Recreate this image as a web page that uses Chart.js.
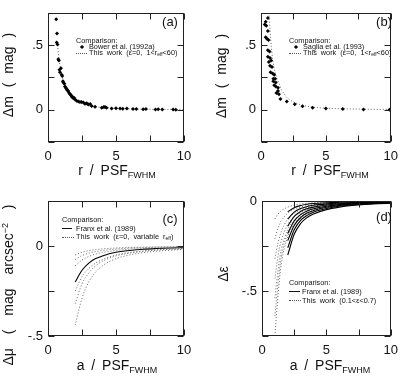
<!DOCTYPE html>
<html>
<head>
<meta charset="UTF-8">
<title>PSF corrections</title>
<script src="https://cdn.jsdelivr.net/npm/chart.js"></script>
<style>
  body, html { margin: 0; padding: 0; background: #fff; }
  #wrap { position: relative; width: 405px; height: 376px; overflow: hidden;
          font-family: "Liberation Sans", Arial, sans-serif; color: #111; }
  canvas { position: absolute; }
  .lbl { position: absolute; white-space: pre; font-size: 14px; line-height: 1; }
  .ylbl { transform: translate(-50%, -50%) rotate(-90deg); }
  .xlbl { transform: translate(-50%, -50%); }
  .lbl sub { font-size: 9px; vertical-align: -3px; }
  .lbl sup { font-size: 9px; vertical-align: 5px; }
  .tag { position: absolute; font-size: 13px; transform: translate(-50%, -50%); }
  .leg { position: absolute; font-size: 7.3px; line-height: 1; white-space: pre; transform: translateY(-50%); }
  .leg sub { font-size: 5px; vertical-align: -1px; }
  .sw { position: absolute; height: 0; }
  .sw.dot { border-top: 1px dotted #555; }
  .sw.sol { border-top: 1px solid #111; }
  .mk { position: absolute; width: 3px; height: 3px; background: #000; transform: translate(-50%, -50%) rotate(45deg); }
</style>
</head>
<body>
<div id="wrap">
  <canvas id="pa" width="200" height="186" style="left:0;top:0"></canvas>
  <canvas id="pb" width="205" height="186" style="left:200px;top:0"></canvas>
  <canvas id="pc" width="200" height="190" style="left:0;top:186px"></canvas>
  <canvas id="pd" width="205" height="190" style="left:200px;top:186px"></canvas>

  <!-- axis titles -->
  <div class="lbl ylbl" style="left:8px;top:75px;word-spacing:5px">Δm ( mag )</div>
  <div class="lbl xlbl" style="left:117px;top:171px;word-spacing:3px">r / PSF<sub>FWHM</sub></div>
  <div class="lbl ylbl" style="left:221px;top:76px;word-spacing:5px">Δm ( mag )</div>
  <div class="lbl xlbl" style="left:330px;top:171px;word-spacing:3px">r / PSF<sub>FWHM</sub></div>
  <div class="lbl ylbl" style="left:8px;top:285px;word-spacing:10px">Δμ ( mag arcsec<sup>−2</sup> )</div>
  <div class="lbl xlbl" style="left:117px;top:366px;word-spacing:3px">a / PSF<sub>FWHM</sub></div>
  <div class="lbl ylbl" style="left:223px;top:274px">Δε</div>
  <div class="lbl xlbl" style="left:330px;top:366px;word-spacing:3px">a / PSF<sub>FWHM</sub></div>

  <!-- panel tags -->
  <div class="tag" style="left:170px;top:21px">(a)</div>
  <div class="tag" style="left:384px;top:21px">(b)</div>
  <div class="tag" style="left:170px;top:218px">(c)</div>
  <div class="tag" style="left:384px;top:216px">(d)</div>

  <!-- legends -->
  <div class="leg" style="left:76px;top:41px">Comparison:</div>
  <div class="mk" style="left:82px;top:47px"></div>
  <div class="leg" style="left:89px;top:47px">Bower et al. (1992a)</div>
  <div class="sw dot" style="left:76px;top:53px;width:11px"></div>
  <div class="leg" style="left:89px;top:53px">This  work  (ε=0,  1&lt;r<sub>eff</sub>&lt;60)</div>

  <div class="leg" style="left:289px;top:41px">Comparison:</div>
  <div class="mk" style="left:296px;top:47px"></div>
  <div class="leg" style="left:303px;top:47px">Saglia et al. (1993)</div>
  <div class="sw dot" style="left:289px;top:53px;width:12px"></div>
  <div class="leg" style="left:303px;top:53px">This  work  (ε=0,  1&lt;r<sub>eff</sub>&lt;60)</div>

  <div class="leg" style="left:62px;top:220px">Comparison:</div>
  <div class="sw sol" style="left:62px;top:228px;width:10px"></div>
  <div class="leg" style="left:76px;top:229px">Franx et al. (1989)</div>
  <div class="sw dot" style="left:62px;top:237px;width:12px"></div>
  <div class="leg" style="left:76px;top:237px">This  work  (ε=0,  variable  r<sub>eff</sub>)</div>

  <div class="leg" style="left:289px;top:283px">Comparison:</div>
  <div class="sw sol" style="left:289px;top:291px;width:11px"></div>
  <div class="leg" style="left:302px;top:292px">Franx et al. (1989)</div>
  <div class="sw dot" style="left:289px;top:300px;width:12px"></div>
  <div class="leg" style="left:302px;top:301px">This  work  (0.1&lt;ε&lt;0.7)</div>
</div>

<script>
  // (a) Bower et al. 1992a points and model curve
  const bowerR  = [0.6, 0.66, 0.64, 0.7, 0.76, 0.8, 0.84, 0.88, 0.95, 1.0, 1.05, 1.1, 1.13, 1.2, 1.25, 1.3, 1.37, 1.42, 1.49, 1.54,
                   1.62, 1.68, 1.74, 1.8, 1.86, 1.93, 1.99, 2.1, 2.23, 2.35, 2.47, 2.6, 2.72, 2.85, 2.97, 3.1, 3.21, 3.46,
                   3.95, 4.1, 4.19, 4.3, 4.68, 5.0, 5.3, 5.5, 5.8, 6.25, 6.5, 7.0, 7.2, 7.9, 8.1, 8.4, 9.2, 9.4];
  const bowerDm = [0.70, 0.59, 0.52, 0.505, 0.39, 0.38, 0.31, 0.29, 0.32, 0.27, 0.26, 0.22, 0.21, 0.2, 0.18, 0.17, 0.16, 0.15, 0.145, 0.132,
                   0.12, 0.113, 0.10, 0.1, 0.088, 0.09, 0.079, 0.07, 0.064, 0.06, 0.059, 0.055, 0.047, 0.05, 0.04, 0.045, 0.029, 0.022,
                   0.015, 0.02, 0.02, 0.015, 0.01, 0.012, 0.01, 0.008, 0.01, 0.005, 0.006, 0.004, 0.005, 0.002, 0.003, 0.002, 0.002, 0.0];
  const bowerModelR  = [0.7, 0.8, 1.0, 1.2, 1.4, 1.6, 1.8, 2.0, 2.5, 3, 4, 5, 6, 8, 10];
  const bowerModelDm = [0.5, 0.4, 0.28, 0.2, 0.15, 0.115, 0.09, 0.073, 0.045, 0.03, 0.016, 0.01, 0.006, 0.003, 0.001];

  // (b) Saglia et al. 1993 points and model curve
  const sagliaR  = [0.29, 0.36, 0.53, 0.41, 0.53, 0.36, 0.46, 0.58, 0.53, 0.66, 0.53, 0.7, 0.78, 0.6, 0.7, 0.85, 0.73, 0.9, 1.02,
                    0.95, 1.09, 0.95, 1.14, 1.02, 1.14, 1.31, 1.31, 1.19, 1.38, 1.5, 1.99, 2.6, 3.2, 3.98, 5.0, 6.3, 7.9, 9.9];
  const sagliaDm = [0.66, 0.68, 0.71, 0.65, 0.61, 0.56, 0.55, 0.54, 0.46, 0.45, 0.41, 0.40, 0.38, 0.37, 0.34, 0.33, 0.29, 0.28, 0.27,
                    0.24, 0.24, 0.22, 0.21, 0.19, 0.18, 0.17, 0.145, 0.13, 0.12, 0.083, 0.064, 0.042, 0.027, 0.015, 0.01, 0.005, 0.002, 0.0];
  const sagliaModelR  = [0.6, 0.8, 1.0, 1.2, 1.4, 1.6, 1.8, 2.0, 2.5, 3, 4, 5, 6, 8, 10];
  const sagliaModelDm = [0.75, 0.48, 0.33, 0.25, 0.2, 0.15, 0.12, 0.095, 0.06, 0.04, 0.02, 0.012, 0.008, 0.004, 0.002];

  // (c) surface brightness corrections
  const muA   = [2, 2.5, 3, 3.5, 4, 5, 6, 7, 8, 9, 10];
  const franxMu = [-0.20, -0.135, -0.095, -0.07, -0.055, -0.035, -0.025, -0.018, -0.014, -0.011, -0.009];
  const muModel = [
    [-0.05, -0.035, -0.026, -0.020, -0.016, -0.011, -0.008, -0.006, -0.005, -0.004, -0.003],
    [-0.075, -0.053, -0.040, -0.031, -0.025, -0.017, -0.012, -0.009, -0.007, -0.006, -0.005],
    [-0.11, -0.078, -0.058, -0.045, -0.036, -0.025, -0.018, -0.014, -0.011, -0.009, -0.007],
    [-0.25, -0.17, -0.125, -0.095, -0.075, -0.05, -0.036, -0.027, -0.021, -0.017, -0.014],
    [-0.32, -0.21, -0.15, -0.11, -0.085, -0.055, -0.04, -0.03, -0.023, -0.018, -0.015],
    [-0.44, -0.29, -0.2, -0.145, -0.11, -0.07, -0.05, -0.037, -0.029, -0.023, -0.019]
  ];

  // (d) ellipticity corrections
  const franxEpsA = [2, 2.5, 3, 3.5, 4, 5, 6, 7, 8, 9, 10];
  const franxEps = [
    [-0.06, -0.037, -0.025, -0.018, -0.014, -0.0096, -0.007, -0.005, -0.004, -0.003, -0.002],
    [-0.10, -0.062, -0.042, -0.031, -0.024, -0.016, -0.011, -0.008, -0.006, -0.005, -0.004],
    [-0.14, -0.086, -0.058, -0.043, -0.034, -0.022, -0.016, -0.012, -0.009, -0.007, -0.006],
    [-0.18, -0.111, -0.075, -0.055, -0.043, -0.029, -0.020, -0.015, -0.011, -0.009, -0.007],
    [-0.22, -0.136, -0.092, -0.067, -0.053, -0.035, -0.025, -0.018, -0.014, -0.011, -0.009],
    [-0.26, -0.160, -0.108, -0.080, -0.062, -0.042, -0.029, -0.022, -0.016, -0.013, -0.010],
    [-0.30, -0.185, -0.125, -0.092, -0.072, -0.048, -0.034, -0.025, -0.019, -0.015, -0.012]
  ];
  const epsModelA = [1, 1.25, 1.5, 2, 2.5, 3, 4, 5, 6, 8, 10];
  const epsModel = [
    [-0.10, -0.072, -0.054, -0.034, -0.023, -0.017, -0.010, -0.006, -0.004, -0.002, -0.001],
    [-0.21, -0.15, -0.11, -0.068, -0.046, -0.034, -0.020, -0.013, -0.009, -0.005, -0.003],
    [-0.32, -0.23, -0.17, -0.10, -0.068, -0.050, -0.029, -0.019, -0.013, -0.007, -0.004],
    [-0.43, -0.30, -0.22, -0.13, -0.088, -0.064, -0.037, -0.024, -0.017, -0.009, -0.006],
    [-0.54, -0.38, -0.27, -0.16, -0.106, -0.077, -0.045, -0.029, -0.020, -0.011, -0.007],
    [-0.64, -0.45, -0.31, -0.18, -0.12, -0.087, -0.051, -0.033, -0.023, -0.013, -0.008],
    [-0.75, -0.52, -0.35, -0.20, -0.13, -0.095, -0.056, -0.036, -0.025, -0.014, -0.009]
  ];

  Chart.defaults.font.family = '"Liberation Sans", Arial, sans-serif';
  Chart.defaults.color = '#111';

  const pts = (xs, ys) => xs.map((x, i) => ({ x: x, y: ys[i] }));

  const dots = (xs, ys) => ({
    data: pts(xs, ys), showLine: false, pointStyle: 'rectRot', pointRadius: 2,
    pointBackgroundColor: '#000', pointBorderWidth: 0
  });
  const dotted = (xs, ys) => ({
    data: pts(xs, ys), showLine: true, borderColor: '#666', borderWidth: 1, borderDash: [1, 2],
    pointRadius: 0, cubicInterpolationMode: 'monotone'
  });
  const solid = (xs, ys) => ({
    data: pts(xs, ys), showLine: true, borderColor: '#000', borderWidth: 1.1,
    pointRadius: 0, cubicInterpolationMode: 'monotone'
  });

  // frame with inward ticks on all four sides
  const frame = {
    id: 'frame',
    afterDatasetsDraw(chart) {
      const { ctx, chartArea: a, scales } = chart;
      const L = Math.round(a.left) + 0.5, R = Math.round(a.right) - 0.5;
      const T = Math.round(a.top) + 0.5, B = Math.round(a.bottom) - 0.5;
      const tl = 6;
      ctx.save();
      ctx.strokeStyle = '#222';
      ctx.lineWidth = 1;
      ctx.strokeRect(L, T, R - L, B - T);
      ctx.beginPath();
      scales.x.ticks.forEach(t => {
        const px = Math.round(scales.x.getPixelForValue(t.value)) + 0.5;
        ctx.moveTo(px, B); ctx.lineTo(px, B - tl);
        ctx.moveTo(px, T); ctx.lineTo(px, T + tl);
      });
      scales.y.ticks.forEach(t => {
        const py = Math.round(scales.y.getPixelForValue(t.value)) + 0.5;
        ctx.moveTo(L, py); ctx.lineTo(L + tl, py);
        ctx.moveTo(R, py); ctx.lineTo(R - tl, py);
      });
      ctx.stroke();
      ctx.restore();
    }
  };

  function yLabel(v) {
    if (v === 0) return '0';
    if (v === 0.5) return '.5';
    if (v === -0.5) return '-.5';
    return '';
  }

  function panel(id, datasets, o) {
    return new Chart(document.getElementById(id), {
      type: 'scatter',
      data: { datasets: datasets },
      plugins: [frame],
      options: {
        responsive: false,
        animation: false,
        devicePixelRatio: 1,
        layout: { padding: { left: 0, right: o.right, top: o.top, bottom: 0 } },
        plugins: { legend: { display: false }, tooltip: { enabled: false } },
        scales: {
          x: {
            type: 'linear', min: 0, max: 10,
            grid: { display: false, drawTicks: false }, border: { display: false },
            ticks: { stepSize: 2.5, autoSkip: false, maxRotation: 0, padding: 7, font: { size: 13 },
                     callback: v => (v % 5 === 0 ? String(v) : '') },
            afterFit: s => { s.height = o.xh; }
          },
          y: {
            type: 'linear', min: o.ymin, max: o.ymax,
            grid: { display: false, drawTicks: false }, border: { display: false },
            ticks: { stepSize: 0.25, autoSkip: false, padding: 5, font: { size: 13 }, callback: yLabel },
            afterFit: s => { s.width = o.yw; }
          }
        }
      }
    });
  }

  panel('pa', [dots(bowerR, bowerDm), dotted(bowerModelR, bowerModelDm)],
        { ymin: -0.25, ymax: 0.75, yw: 48, right: 16, top: 6, xh: 44 });

  panel('pb', [dots(sagliaR, sagliaDm), dotted(sagliaModelR, sagliaModelDm)],
        { ymin: -0.25, ymax: 0.75, yw: 61, right: 7, top: 6, xh: 44 });

  panel('pc', muModel.map(m => dotted(muA, m)).concat([solid(muA, franxMu)]),
        { ymin: -0.5, ymax: 0.25, yw: 48, right: 16, top: 15, xh: 40 });

  panel('pd', franxEps.map(f => solid(franxEpsA, f)).concat(epsModel.map(m => dotted(epsModelA, m))),
        { ymin: -0.75, ymax: 0, yw: 62, right: 7, top: 15, xh: 40 });
</script>
</body>
</html>
